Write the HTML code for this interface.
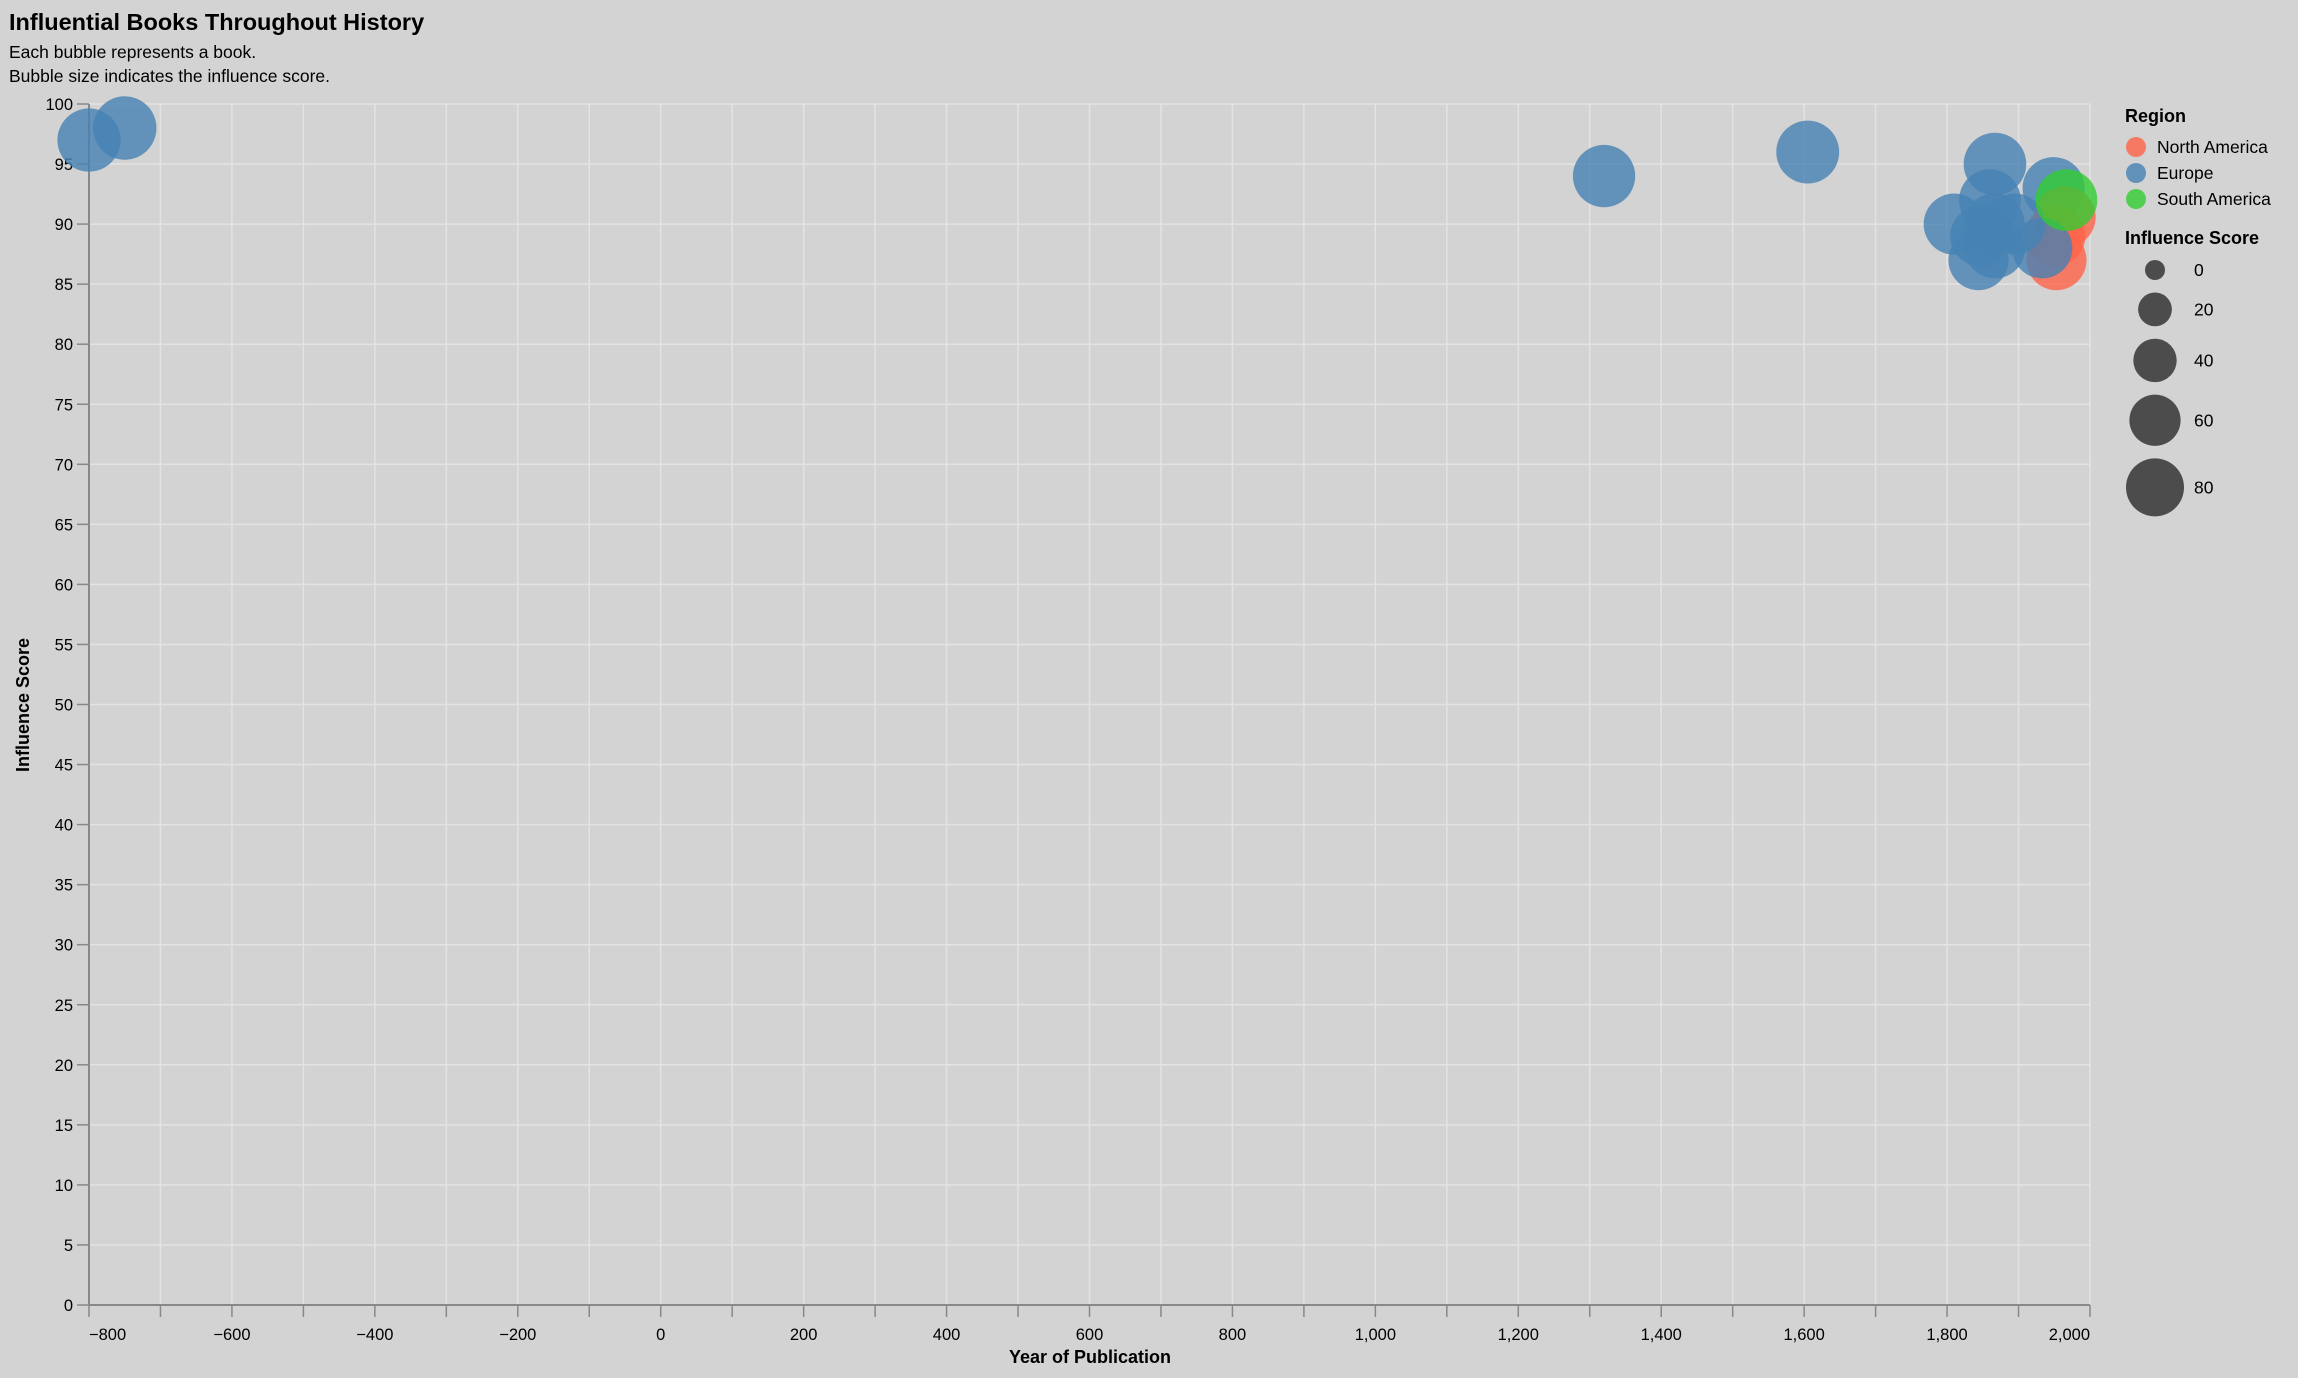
<!DOCTYPE html>
<html><head><meta charset="utf-8"><style>
html,body{margin:0;padding:0;background:#d3d3d3;}
svg{display:block;font-family:"Liberation Sans",Arial,sans-serif;}
</style></head><body>
<svg id="chart" width="2298" height="1378">
<rect width="2298" height="1378" fill="#d3d3d3"/>
<text x="9" y="30" font-size="23.5" font-weight="bold" fill="#000">Influential Books Throughout History</text>
<text x="9" y="58" font-size="17.5" fill="#000">Each bubble represents a book.</text>
<text x="9" y="82" font-size="17.5" fill="#000">Bubble size indicates the influence score.</text>
<g id="grid"></g>
<g id="axes"></g>
<g id="marks"></g>
<text x="1090" y="1363" font-size="18" font-weight="bold" text-anchor="middle">Year of Publication</text>
<text transform="translate(29,705) rotate(-90)" font-size="18" font-weight="bold" text-anchor="middle">Influence Score</text>
<g id="legend">
<text x="2125" y="122" font-size="18" font-weight="bold">Region</text>
<g><circle cx="2136" cy="147" r="10" fill="#ff6347" opacity="0.8"/><text x="2157" y="153" font-size="17.5">North America</text></g>
<g><circle cx="2136" cy="173" r="10" fill="#4682b4" opacity="0.8"/><text x="2157" y="179" font-size="17.5">Europe</text></g>
<g><circle cx="2136" cy="199" r="10" fill="#32cd32" opacity="0.8"/><text x="2157" y="205" font-size="17.5">South America</text></g>
<text x="2125" y="244" font-size="18" font-weight="bold">Influence Score</text>
<g id="sizeLegend"></g>
</g>
</svg>
<script>
const years = [-800, -750, 1320, 1605, 1867, 1949, 1965, 1951, 1953, 1810, 1860, 1844, 1847, 1866, 1933, 1867, 1895, 1967];
const scores = [97, 98, 94, 96, 95, 93, 90.6, 89, 87, 90, 92, 87, 89, 90, 88, 88, 90, 92];
const regions = ["Europe","Europe","Europe","Europe","Europe","Europe","North America","North America","North America","Europe","Europe","Europe","Europe","Europe","Europe","Europe","Europe","South America"];
const xTicks = [-800,-600,-400,-200,0,200,400,600,800,1000,1200,1400,1600,1800,2000];
const xTickLabels = ["−800","−600","−400","−200","0","200","400","600","800","1,000","1,200","1,400","1,600","1,800","2,000"];
const yTicks = [0,5,10,15,20,25,30,35,40,45,50,55,60,65,70,75,80,85,90,95,100];
const sizeLegendValues = [0,20,40,60,80];

const NS="http://www.w3.org/2000/svg";
const X0=89,X1=2090,Y0=1305,Y1=104;
const xS=v=>X0+(v+800)/2800*(X1-X0);
const yS=v=>Y0-(v/100)*(Y0-Y1);
const rS=v=>Math.sqrt(100+9.26*v);
const colors={"North America":"#ff6347","Europe":"#4682b4","South America":"#32cd32"};
function mk(tag,attrs,parent){const e=document.createElementNS(NS,tag);for(const k in attrs)e.setAttribute(k,attrs[k]);parent.appendChild(e);return e;}
const grid=document.getElementById('grid'),axes=document.getElementById('axes'),marks=document.getElementById('marks');
for(let yr=-800;yr<=2000;yr+=100){
  const x=xS(yr);
  const l=mk('line',{x1:x,x2:x,y1:Y1,y2:Y0,stroke:'#e3e3e3','stroke-width':1.5},grid);
  
  
  const t=mk('line',{x1:x,x2:x,y1:Y0,y2:Y0+12,stroke:'#888','stroke-width':1.5},axes);
  
  
}
yTicks.forEach(v=>{
  const y=yS(v);
  const l=mk('line',{x1:X0,x2:X1,y1:y,y2:y,stroke:'#e3e3e3','stroke-width':1.5},grid);
  
  
  const t=mk('line',{x1:X0-12,x2:X0,y1:y,y2:y,stroke:'#888','stroke-width':1.5},axes);
  
  
  const tx=mk('text',{x:X0-16,y:y+6,'font-size':16.5,'text-anchor':'end'},axes);
  tx.textContent=v;
  
  
});
xTicks.forEach((v,i)=>{
  const tx=mk('text',{x:xS(v),y:Y0+35,'font-size':16.5,'text-anchor':i===0?'start':(i===xTicks.length-1?'end':'middle')},axes);
  tx.textContent=xTickLabels[i];
  
  
});
const ya=mk('line',{x1:X0,x2:X0,y1:Y1,y2:Y0,stroke:'#888','stroke-width':2},axes);


const xa=mk('line',{x1:X0,x2:X1,y1:Y0,y2:Y0,stroke:'#888','stroke-width':2},axes);


years.forEach((yr,i)=>{
  const c=mk('circle',{cx:xS(yr),cy:yS(scores[i]),r:rS(scores[i]),fill:colors[regions[i]],opacity:0.8},marks);
  
  
});
const sl=document.getElementById('sizeLegend');
let cy=270;
sizeLegendValues.forEach((v,i)=>{
  const r=rS(v);
  if(i>0) cy+=rS(sizeLegendValues[i-1])+r+12.5;
  const c=mk('circle',{cx:2155,cy:cy,r:r,fill:'#4c4c4c'},sl);
  
  
  const t=mk('text',{x:2194,y:cy+6,'font-size':17.5},sl);
  t.textContent=v;
  
  
});
</script>
</body></html>
